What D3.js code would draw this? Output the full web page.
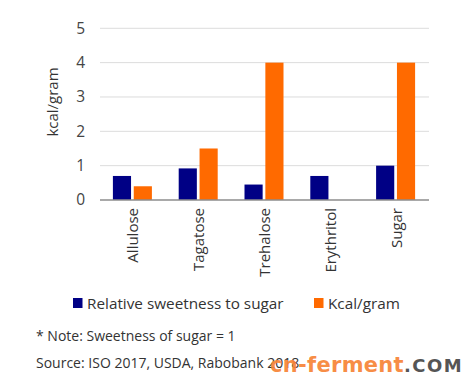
<!DOCTYPE html>
<html><head><meta charset="utf-8">
<script src="https://cdn.jsdelivr.net/npm/d3@7"></script>
<style>body{margin:0;background:#fff}svg{display:block}</style>
</head><body><svg id="c" width="475" height="388"></svg>
<script>
const categories = ["Allulose","Tagatose","Trehalose","Erythritol","Sugar"];
const sweetness = [0.7, 0.92, 0.45, 0.7, 1.0];
const kcal = [0.4, 1.5, 4, 0, 4];
const seriesNames = ["Relative sweetness to sugar","Kcal/gram"];
const yTicks = [0,1,2,3,4,5];
const colors = ["#000085","#ff6a00"];
const font = "'Open Sans', sans-serif";

const svg = d3.select("#c");
const x = d3.scaleBand().domain(categories).range([100,429]);
const y = d3.scaleLinear().domain([0,5]).range([200,28.3]);
const inner = d3.scaleBand().domain([0,1]).range([-20,19]).paddingInner(0.13);

svg.append("g").selectAll("line").data(yTicks.filter(d=>d>0)).join("line")
  .attr("x1",100).attr("x2",429).attr("y1",d=>y(d)).attr("y2",d=>y(d))
  .attr("stroke","#dcdcdc").attr("stroke-width",1);

const yAxis = svg.append("g").attr("transform","translate(100,0)")
  .call(d3.axisLeft(y).tickValues(yTicks).tickFormat(d3.format("d")).tickSize(0).tickPadding(15));
yAxis.select(".domain").remove();
yAxis.selectAll("text").attr("font-family",font).attr("font-size",15.5).attr("fill","#444");

const series = [sweetness, kcal];
series.forEach((vals,si)=>{
  svg.append("g").selectAll("rect").data(vals).join("rect")
    .attr("x",(d,i)=>x(categories[i])+x.bandwidth()/2+inner(si))
    .attr("width",inner.bandwidth())
    .attr("y",d=>y(d)).attr("height",d=>y(0)-y(d))
    .attr("fill",colors[si]);
});

svg.append("line").attr("x1",100).attr("x2",429).attr("y1",y(0)).attr("y2",y(0))
  .attr("stroke","#8c8c8c").attr("stroke-width",1.3);

svg.append("g").selectAll("text").data(categories).join("text")
  .attr("transform",d=>`translate(${x(d)+x.bandwidth()/2+5.5},208) rotate(-90)`)
  .attr("text-anchor","end").attr("font-family",font).attr("font-size",15).attr("fill","#333")
  .text(d=>d);

svg.append("text").attr("transform","translate(58,102) rotate(-90)")
  .attr("text-anchor","middle").attr("font-family",font).attr("font-size",15).attr("fill","#333")
  .text("kcal/gram");

const legendX = [73, 314];
seriesNames.forEach((n,i)=>{
  svg.append("rect").attr("x",legendX[i]).attr("y",298).attr("width",9.5).attr("height",10).attr("fill",colors[i]);
  svg.append("text").attr("x",legendX[i]+14).attr("y",308.5).attr("font-family",font).attr("font-size",15.3).attr("fill","#333").text(n);
});

svg.append("text").attr("x",36).attr("y",341).attr("font-family",font).attr("font-size",14).attr("fill","#333")
  .text("* Note: Sweetness of sugar = 1");
svg.append("text").attr("x",36).attr("y",368).attr("font-family",font).attr("font-size",14).attr("fill","#333")
  .text("Source: ISO 2017, USDA, Rabobank 2018");

const wm = svg.append("text").attr("x",270).attr("y",372).attr("font-family","'DejaVu Sans', sans-serif")
  .attr("font-weight","bold").attr("font-size",21).attr("letter-spacing",0.3);
wm.append("tspan").attr("fill","#f7863a").attr("fill-opacity",0.95).text("cn-ferment");
wm.append("tspan").attr("fill","#555").attr("font-size",18).attr("letter-spacing",1.5).text(".COM");
</script></body></html>
